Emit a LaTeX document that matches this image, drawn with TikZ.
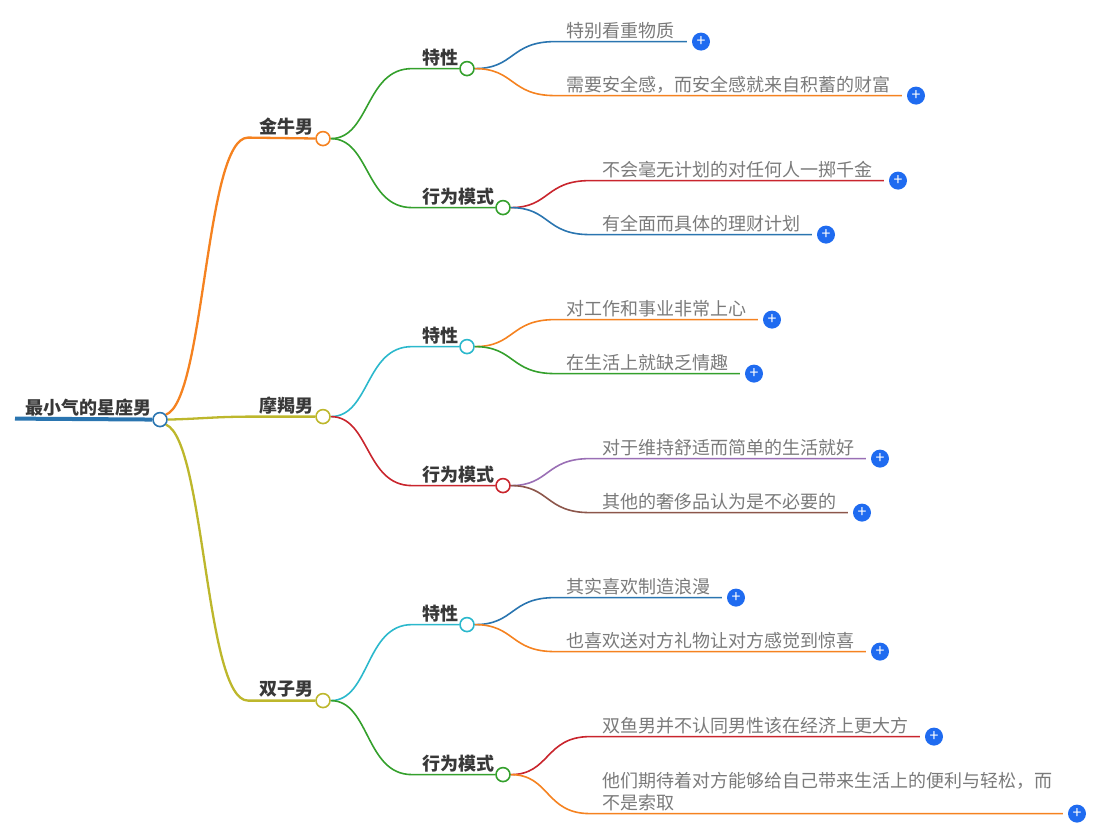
\documentclass[tikz,border=0pt]{standalone}
\usepackage{fontspec}
\setmainfont{Noto Sans CJK SC}
\usetikzlibrary{positioning}
\definecolor{cRoot}{HTML}{2A75B0}
\definecolor{cBlue}{HTML}{2A75B0}
\definecolor{cOrange}{HTML}{F58220}
\definecolor{cGreen}{HTML}{34A02C}
\definecolor{cYellow}{HTML}{BDB72C}
\definecolor{cCyan}{HTML}{2BB8CC}
\definecolor{cRed}{HTML}{C9252D}
\definecolor{cPurple}{HTML}{9A6FB5}
\definecolor{cBrown}{HTML}{8C564B}
\definecolor{cPlus}{HTML}{1F6BF0}
\tikzset{
  link/.style={line width=1.6pt},
  mainlink/.style={line width=2.3pt},
  leaflink/.style={line width=1.6pt, shorten >=5pt},
  knob/.style={circle, draw, fill=white, line width=1.6pt, minimum size=14pt, inner sep=0pt},
  head/.style={anchor=base west, inner sep=0pt, font=\fontsize{18}{20}\selectfont\bfseries, text=black!78},
  leaf/.style={anchor=base west, inner sep=0pt, font=\fontsize{18}{22}\selectfont, text=black!52},
  plus/.style={circle, fill=cPlus, minimum size=18pt, inner sep=0pt, text=white, font=\fontsize{16}{16}\selectfont},
}
\begin{document}
\begin{tikzpicture}[x=1pt, y=-1pt]
  \useasboundingbox (0,-0.6) rectangle (1113,834.4);

  % Knobs
  \coordinate (rootStart) at (15,418);
  \node[knob, draw=cRoot] (root) at (160,419) {};
  \node[knob, draw=cOrange] (jin) at (323,138) {};
  \node[knob, draw=cYellow] (mo) at (323,416) {};
  \node[knob, draw=cYellow] (shuang) at (323,700) {};
  \node[knob, draw=cGreen] (jinA) at (467,68) {};
  \node[knob, draw=cGreen] (jinB) at (503,207) {};
  \node[knob, draw=cCyan] (moA) at (467,346) {};
  \node[knob, draw=cRed] (moB) at (503,485) {};
  \node[knob, draw=cCyan] (shuangA) at (467,624) {};
  \node[knob, draw=cGreen] (shuangB) at (503,774) {};

  % Plus buttons
  \node[plus] (p1) at (701,41) {+};
  \node[plus] (p2) at (916,95) {+};
  \node[plus] (p3) at (898,180) {+};
  \node[plus] (p4) at (826,234) {+};
  \node[plus] (p5) at (772,319) {+};
  \node[plus] (p6) at (754,373) {+};
  \node[plus] (p7) at (880,458) {+};
  \node[plus] (p8) at (862,512) {+};
  \node[plus] (p9) at (736,597) {+};
  \node[plus] (p10) at (880,651) {+};
  \node[plus] (p11) at (934,736) {+};
  \node[plus] (p12) at (1077,813) {+};

  % Root
  \draw[line width=4pt, cRoot] (rootStart) -- (root);
  \node[head] (tRoot) at (25,414) {最小气的星座男};

  % Main branches
  \draw[mainlink, cOrange] (root.40) .. controls (205,400) and (205,137) .. (248,137) -- (jin);
  \draw[mainlink, cYellow] (root.east) .. controls (205,418) and (215,416) .. (255,416) -- (mo);
  \draw[mainlink, cYellow] (root.-40) .. controls (205,440) and (205,700) .. (248,700) -- (shuang);
  \node[head] (tJin) at (259,133) {金牛男};
  \node[head] (tMo) at (259,412) {摩羯男};
  \node[head] (tShuang) at (259,695) {双子男};

  % Second level
  \draw[link, cGreen] (jin.east) .. controls (370,138) and (365,68) .. (412,68) -- (jinA);
  \draw[link, cGreen] (jin.east) .. controls (370,138) and (365,207) .. (412,207) -- (jinB);
  \draw[link, cCyan] (mo.east) .. controls (370,416) and (365,346) .. (412,346) -- (moA);
  \draw[link, cRed] (mo.east) .. controls (370,416) and (365,485) .. (412,485) -- (moB);
  \draw[link, cCyan] (shuang.east) .. controls (370,700) and (365,624) .. (412,624) -- (shuangA);
  \draw[link, cGreen] (shuang.east) .. controls (370,700) and (365,774) .. (412,774) -- (shuangB);
  \node[head] (tJinA) at (422,64) {特性};
  \node[head] (tJinB) at (422,203) {行为模式};
  \node[head] (tMoA) at (422,342) {特性};
  \node[head] (tMoB) at (422,481) {行为模式};
  \node[head] (tShuangA) at (422,620) {特性};
  \node[head] (tShuangB) at (422,770) {行为模式};

  % Leaves
  \draw[leaflink, cBlue] (jinA.east) .. controls (515,68) and (510,41) .. (555,41) -- (p1.west);
  \draw[leaflink, cOrange] (jinA.east) .. controls (515,68) and (510,95) .. (555,95) -- (p2.west);
  \draw[leaflink, cRed] (jinB.east) .. controls (550,207) and (545,180) .. (590,180) -- (p3.west);
  \draw[leaflink, cBlue] (jinB.east) .. controls (550,207) and (545,234) .. (590,234) -- (p4.west);
  \draw[leaflink, cOrange] (moA.east) .. controls (515,346) and (510,319) .. (555,319) -- (p5.west);
  \draw[leaflink, cGreen] (moA.east) .. controls (515,346) and (510,373) .. (555,373) -- (p6.west);
  \draw[leaflink, cPurple] (moB.east) .. controls (550,485) and (545,458) .. (590,458) -- (p7.west);
  \draw[leaflink, cBrown] (moB.east) .. controls (550,485) and (545,512) .. (590,512) -- (p8.west);
  \draw[leaflink, cBlue] (shuangA.east) .. controls (515,624) and (510,597) .. (555,597) -- (p9.west);
  \draw[leaflink, cOrange] (shuangA.east) .. controls (515,624) and (510,651) .. (555,651) -- (p10.west);
  \draw[leaflink, cRed] (shuangB.east) .. controls (550,774) and (545,736) .. (590,736) -- (p11.west);
  \draw[leaflink, cOrange] (shuangB.east) .. controls (550,774) and (545,813) .. (590,813) -- (p12.west);

  \node[leaf] (l1) at (566,37) {特别看重物质};
  \node[leaf] (l2) at (566,91) {需要安全感，而安全感就来自积蓄的财富};
  \node[leaf] (l3) at (602,176) {不会毫无计划的对任何人一掷千金};
  \node[leaf] (l4) at (602,230) {有全面而具体的理财计划};
  \node[leaf] (l5) at (566,315) {对工作和事业非常上心};
  \node[leaf] (l6) at (566,369) {在生活上就缺乏情趣};
  \node[leaf] (l7) at (602,454) {对于维持舒适而简单的生活就好};
  \node[leaf] (l8) at (602,508) {其他的奢侈品认为是不必要的};
  \node[leaf] (l9) at (566,593) {其实喜欢制造浪漫};
  \node[leaf] (l10) at (566,647) {也喜欢送对方礼物让对方感觉到惊喜};
  \node[leaf] (l11) at (602,732) {双鱼男并不认同男性该在经济上更大方};
  \node[leaf] (l12) at (602,787) {他们期待着对方能够给自己带来生活上的便利与轻松，而};
  \node[leaf] (l12b) at (602,809) {不是索取};
\end{tikzpicture}
\end{document}
